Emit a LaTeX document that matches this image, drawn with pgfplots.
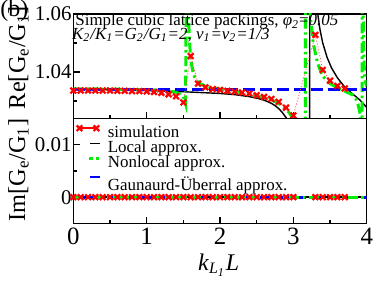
\documentclass[border=0pt]{standalone}
\usepackage{fontspec}
\setmainfont{Liberation Serif}
\usepackage{pgfplots}
\pgfplotsset{compat=1.18}
\definecolor{gcol}{RGB}{0,240,0}
\definecolor{bcol}{RGB}{0,0,255}
\definecolor{rcol}{RGB}{255,0,0}
\def\lstrut{\rule[-2bp]{0pt}{8bp}}
\begin{document}
\begin{tikzpicture}
\pgfplotsset{
  common/.style={
    scale only axis, width=146.7bp,
    xmin=0, xmax=4,
    axis line style={line width=0.6bp},
    every tick/.style={black, line width=0.6bp},
    major tick length=3.3bp, minor tick length=1.7bp,
    tick pos=left, tick align=inside,
    xtick={0,1,2,3,4}, minor xtick={0.5,1.5,2.5,3.5},
    scaled y ticks=false, scaled x ticks=false,
    yticklabel style={font=\fontsize{10.5}{12}\selectfont, inner xsep=0.7bp},
    xticklabel style={font=\fontsize{12.5}{14}\selectfont, inner ysep=2.3bp},
  },
  blk/.style={black, line width=0.7bp},
  grn/.style={gcol, line width=1.5bp, dash pattern=on 5bp off 1.8bp on 1.2bp off 1.8bp},
  blu/.style={bcol, line width=1.4bp, dash pattern=on 6bp off 2.5bp},
  sim/.style={rcol!70, line width=0.4bp, dash pattern=on 0.5bp off 1bp, mark=x, mark size=2bp, mark options={rcol, solid, line width=1.1bp}},
}
% ---------------- top panel ----------------
\begin{axis}[common, name=top, height=52.2bp,
  ymin=1.024, ymax=1.06,
  ytick={1.04,1.06}, yticklabels={1.04,1.06}, minor ytick={1.03,1.05},
  xticklabels={}]
\coordinate (TL) at (rel axis cs:0,1);
\coordinate (BLt) at (rel axis cs:0,0);
\addplot[blk] coordinates {(0,1.0341)(0.5,1.0339)(1.0,1.0336)(1.5,1.0332)(2.0,1.0326)(2.2,1.0322)(2.4,1.0315)(2.5,1.0310)(2.6,1.0303)(2.7,1.0292)(2.75,1.0284)(2.8,1.0274)(2.85,1.0260)(2.9,1.0243)(2.95,1.0222)(3.0,1.0195)(3.1,1.010)(3.2,0.990)(3.22,0.9)
 (3.225,1.2)(3.3,1.070)(3.33,1.0605)(3.36,1.0550)(3.40,1.0500)(3.46,1.0450)(3.52,1.0414)(3.6,1.0380)(3.7,1.0348)(3.8,1.0326)(3.9,1.0305)(4.0,1.0278)};
\addplot[grn] coordinates {(0,1.0342)(0.5,1.0341)(1.0,1.0339)(1.2,1.0337)(1.3,1.0334)(1.4,1.0330)(1.45,1.0325)(1.5,1.0315)(1.53,1.0290)(1.545,1.090)(1.56,1.070)(1.58,1.052)(1.6,1.0445)(1.63,1.0400)(1.66,1.0378)(1.7,1.0364)(1.8,1.0351)(1.9,1.0345)(2.0,1.0341)(2.2,1.0333)(2.4,1.0324)(2.5,1.0318)(2.6,1.0312)(2.7,1.0304)(2.8,1.0292)(2.9,1.0272)(2.95,1.0257)(3.0,1.0238)(3.05,1.0205)(3.1,1.0150)(3.15,1.000)(3.16,0.95)
 (3.165,1.15)(3.2,1.070)(3.22,1.062)(3.27,1.050)(3.33,1.043)(3.4,1.0385)(3.5,1.0360)(3.6,1.0345)(3.7,1.0334)(3.8,1.0322)(3.85,1.0308)(3.88,1.0290)(3.91,1.0255)(3.93,1.0180)(3.935,0.95)
 (3.94,1.15)(3.95,1.062)(3.96,1.046)(3.97,1.0395)(3.98,1.0368)(4.0,1.0350)};
\addplot[blu] coordinates {(0,1.0341)(4,1.0341)};
\addplot[sim] coordinates {(0,1.0336)(0.1,1.0336)(0.2,1.0336)(0.3,1.0336)(0.4,1.0336)(0.5,1.0336)(0.6,1.0335)(0.7,1.0335)(0.8,1.0334)(0.9,1.0334)(1.0,1.0333)(1.1,1.0331)(1.2,1.0328)(1.3,1.0323)(1.4,1.0316)(1.5,1.0295)(1.6,1.0455)(1.7,1.0360)(1.8,1.0347)(1.9,1.0341)(2.0,1.0338)(2.1,1.0335)(2.2,1.0332)(2.3,1.0329)(2.4,1.0326)(2.5,1.0320)(2.6,1.0314)(2.7,1.0307)(2.8,1.0297)(2.9,1.0277)(3.0,1.0250)(3.3,1.0528)(3.4,1.0407)(3.5,1.0370)(3.6,1.0352)(3.7,1.0343)};
\end{axis}
% ---------------- bottom panel ----------------
\begin{axis}[common, name=bot, at={(BLt)}, anchor=north west, height=52.5bp,
  ymin=-0.005, ymax=0.015,
  ytick={0,0.01}, yticklabels={0,0.01}, minor ytick={-0.005,0.005},
  xticklabels={0,1,2,3,4},
  legend style={at={(rel axis cs:0,1)}, anchor=north west, draw=none, fill=none,
    inner sep=0pt, outer sep=0pt, row sep=0pt, column sep=0pt,
    nodes={inner sep=0pt, outer sep=0pt, font=\fontsize{8.5}{10}\selectfont},
    cells={anchor=base west}, xshift=0.85bp, yshift=-3.5bp},
  legend cell align=left]
\coordinate (BB) at (rel axis cs:0.5,0);
\addlegendimage{legend image code/.code={
  \draw[rcol!70, line width=0.4bp, dash pattern=on 0.5bp off 1bp] (2bp,2.5bp) -- (10.5bp,2.5bp);
  \path[rcol, line width=1.1bp] plot[mark=x, mark size=2bp] coordinates {(2bp,2.5bp) (10.5bp,2.5bp)};
  \path (0bp,2.5bp) (16bp,2.5bp);}}
\addlegendentry{simulation\lstrut}
\addlegendimage{legend image code/.code={
  \draw[black, line width=0.7bp] (7.5bp,2.5bp) -- (12.5bp,2.5bp);
  \path (0bp,2.5bp) (16bp,2.5bp);}}
\addlegendentry{Local approx.\lstrut}
\addlegendimage{legend image code/.code={
  \draw[gcol, line width=1.5bp, dash pattern=on 1.8bp off 1.4bp] (7bp,2.5bp) -- (12.5bp,2.5bp);
  \path (0bp,2.5bp) (16bp,2.5bp);}}
\addlegendentry{Nonlocal approx.\lstrut}
\addlegendimage{legend image code/.code={
  \draw[bcol, line width=1.4bp] (7.5bp,2.5bp) -- (12.5bp,2.5bp);
  \path (0bp,2.5bp) (16bp,2.5bp);}}
\addlegendentry{Gaunaurd-Überral approx.\rule[-2bp]{0pt}{11.85bp}}
\addplot[blk, forget plot] coordinates {(0,0)(4,0)};
\addplot[blu, forget plot] coordinates {(0,0)(4,0)};
\addplot[grn, forget plot] coordinates {(0,0)(4,0)};
\addplot[sim, only marks, forget plot] coordinates {(0,0)(0.1,0)(0.2,0)(0.3,0)(0.4,0)(0.5,0)(0.6,0)(0.7,0)(0.8,0)(0.9,0)(1.0,0)(1.1,0)(1.2,0)(1.3,0)(1.4,0)(1.5,0)(1.6,0)(1.7,0)(1.8,0)(1.9,0)(2.0,0)(2.1,0)(2.2,0)(2.3,0)(2.4,0)(2.5,0)(2.6,0)(2.7,0)(2.8,0)(2.9,0)(3.0,0)(3.3,0)(3.4,0)(3.5,0)(3.6,0)(3.7,0)};
\end{axis}
% ---------------- texts ----------------
\path (TL) ++(-36.67bp,-1.5bp) node[anchor=base west, inner sep=0pt, font=\fontsize{12}{14}\selectfont] {(b)};
\path (TL) ++(0.85bp,-6bp) node[anchor=base west, inner sep=0pt, font=\fontsize{8.5}{10}\selectfont]
  {Simple cubic lattice packings, \textit{φ}\textsubscript{\itshape 2}=\textit{0.05}};
\path (TL) ++(-0.8bp,-12.7bp) node[anchor=base west, inner sep=0pt, font=\fontsize{8.5}{10}\selectfont\itshape]
  {K\textsubscript{2}/K\textsubscript{1}=G\textsubscript{2}/G\textsubscript{1}=2, ν\textsubscript{1}=ν\textsubscript{2}=1/3};
\path (TL) ++(-24.15bp,-21.75bp) node[rotate=90, anchor=base, inner sep=0pt, font=\fontsize{12.2}{14}\selectfont]
  {Re[G\textsubscript{e}/G\textsubscript{1}]};
\path (TL) ++(-24.15bp,-78bp) node[rotate=90, anchor=base, inner sep=0pt, font=\fontsize{12.2}{14}\selectfont]
  {Im[G\textsubscript{e}/G\textsubscript{1}]};
\path (BB) ++(-0.7bp,-23.35bp) node[anchor=base, inner sep=0pt, font=\fontsize{12}{14}\selectfont]
  {\textit{k}\textsubscript{\itshape L\textsubscript{1}}\textit{L}};
\pgfresetboundingbox
\path[use as bounding box] (TL) ++(-36.67bp,7bp) rectangle ++(187bp,-142bp);
\end{tikzpicture}
\end{document}
